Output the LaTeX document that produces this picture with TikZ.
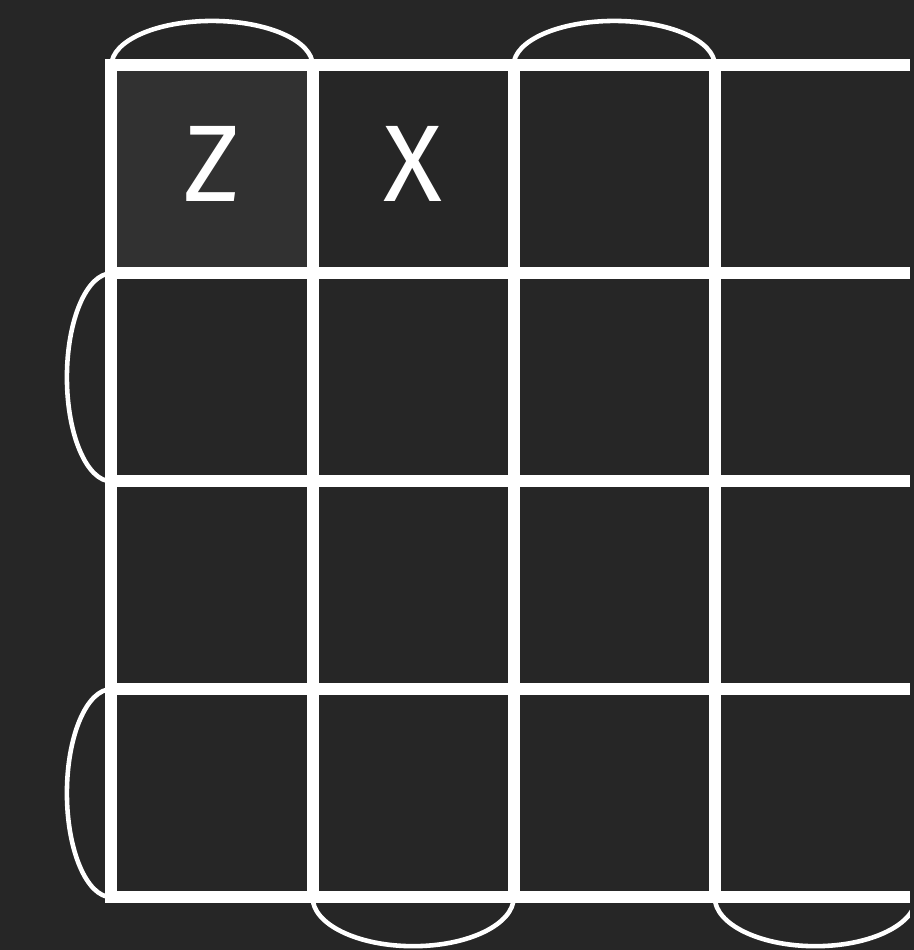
\documentclass[tikz,border=0pt]{standalone}
\usepackage{fontspec}
\setmainfont{Fira Sans}
\usepackage{xcolor}
\definecolor{bgcol}{HTML}{262626}
\definecolor{zcol}{HTML}{313131}

\begin{document}
\begin{tikzpicture}[
  x=0.01cm, y=0.01cm,
  cell/.style={draw=white, line width=3.4pt, minimum width=2.011cm, minimum height=2.079cm, inner sep=0pt, outer sep=0pt},
  lbl/.style={font=\fontsize{31}{31}\selectfont, text=white, anchor=base, inner sep=0pt},
  band/.style={draw=white, line width=1.3pt}
]
\fill[bgcol] (0,0) rectangle (914,950);
\useasboundingbox (0,0) rectangle (914,950);
\clip (0,0) rectangle (910,950);
\foreach \r in {1,...,4} {
  \foreach \c in {1,...,4} {
    \ifnum\r\c=11 \colorlet{cf}{zcol}\else\colorlet{cf}{bgcol}\fi
    \node[cell, fill=cf] (c\r\c) at ({212.05+201.1*(\c-1)},{780.55-207.9*(\r-1)}) {};
  }
}
\node[lbl] (zl) at ([yshift=-0.325cm]c11.center) {Z};
\node[lbl] (xl) at ([yshift=-0.325cm]c12.center) {X};
\foreach \n in {c11,c13}
  \draw[band] (\n.north west) arc[start angle=180, end angle=0, x radius=1.0055cm, y radius=0.445cm];
\foreach \n in {c21,c41}
  \draw[band] (\n.north west) arc[start angle=90, end angle=270, x radius=0.445cm, y radius=1.0395cm];
\foreach \n in {c42,c44}
  \draw[band] (\n.south west) arc[start angle=180, end angle=360, x radius=1.0055cm, y radius=0.49cm];
\end{tikzpicture}
\end{document}
